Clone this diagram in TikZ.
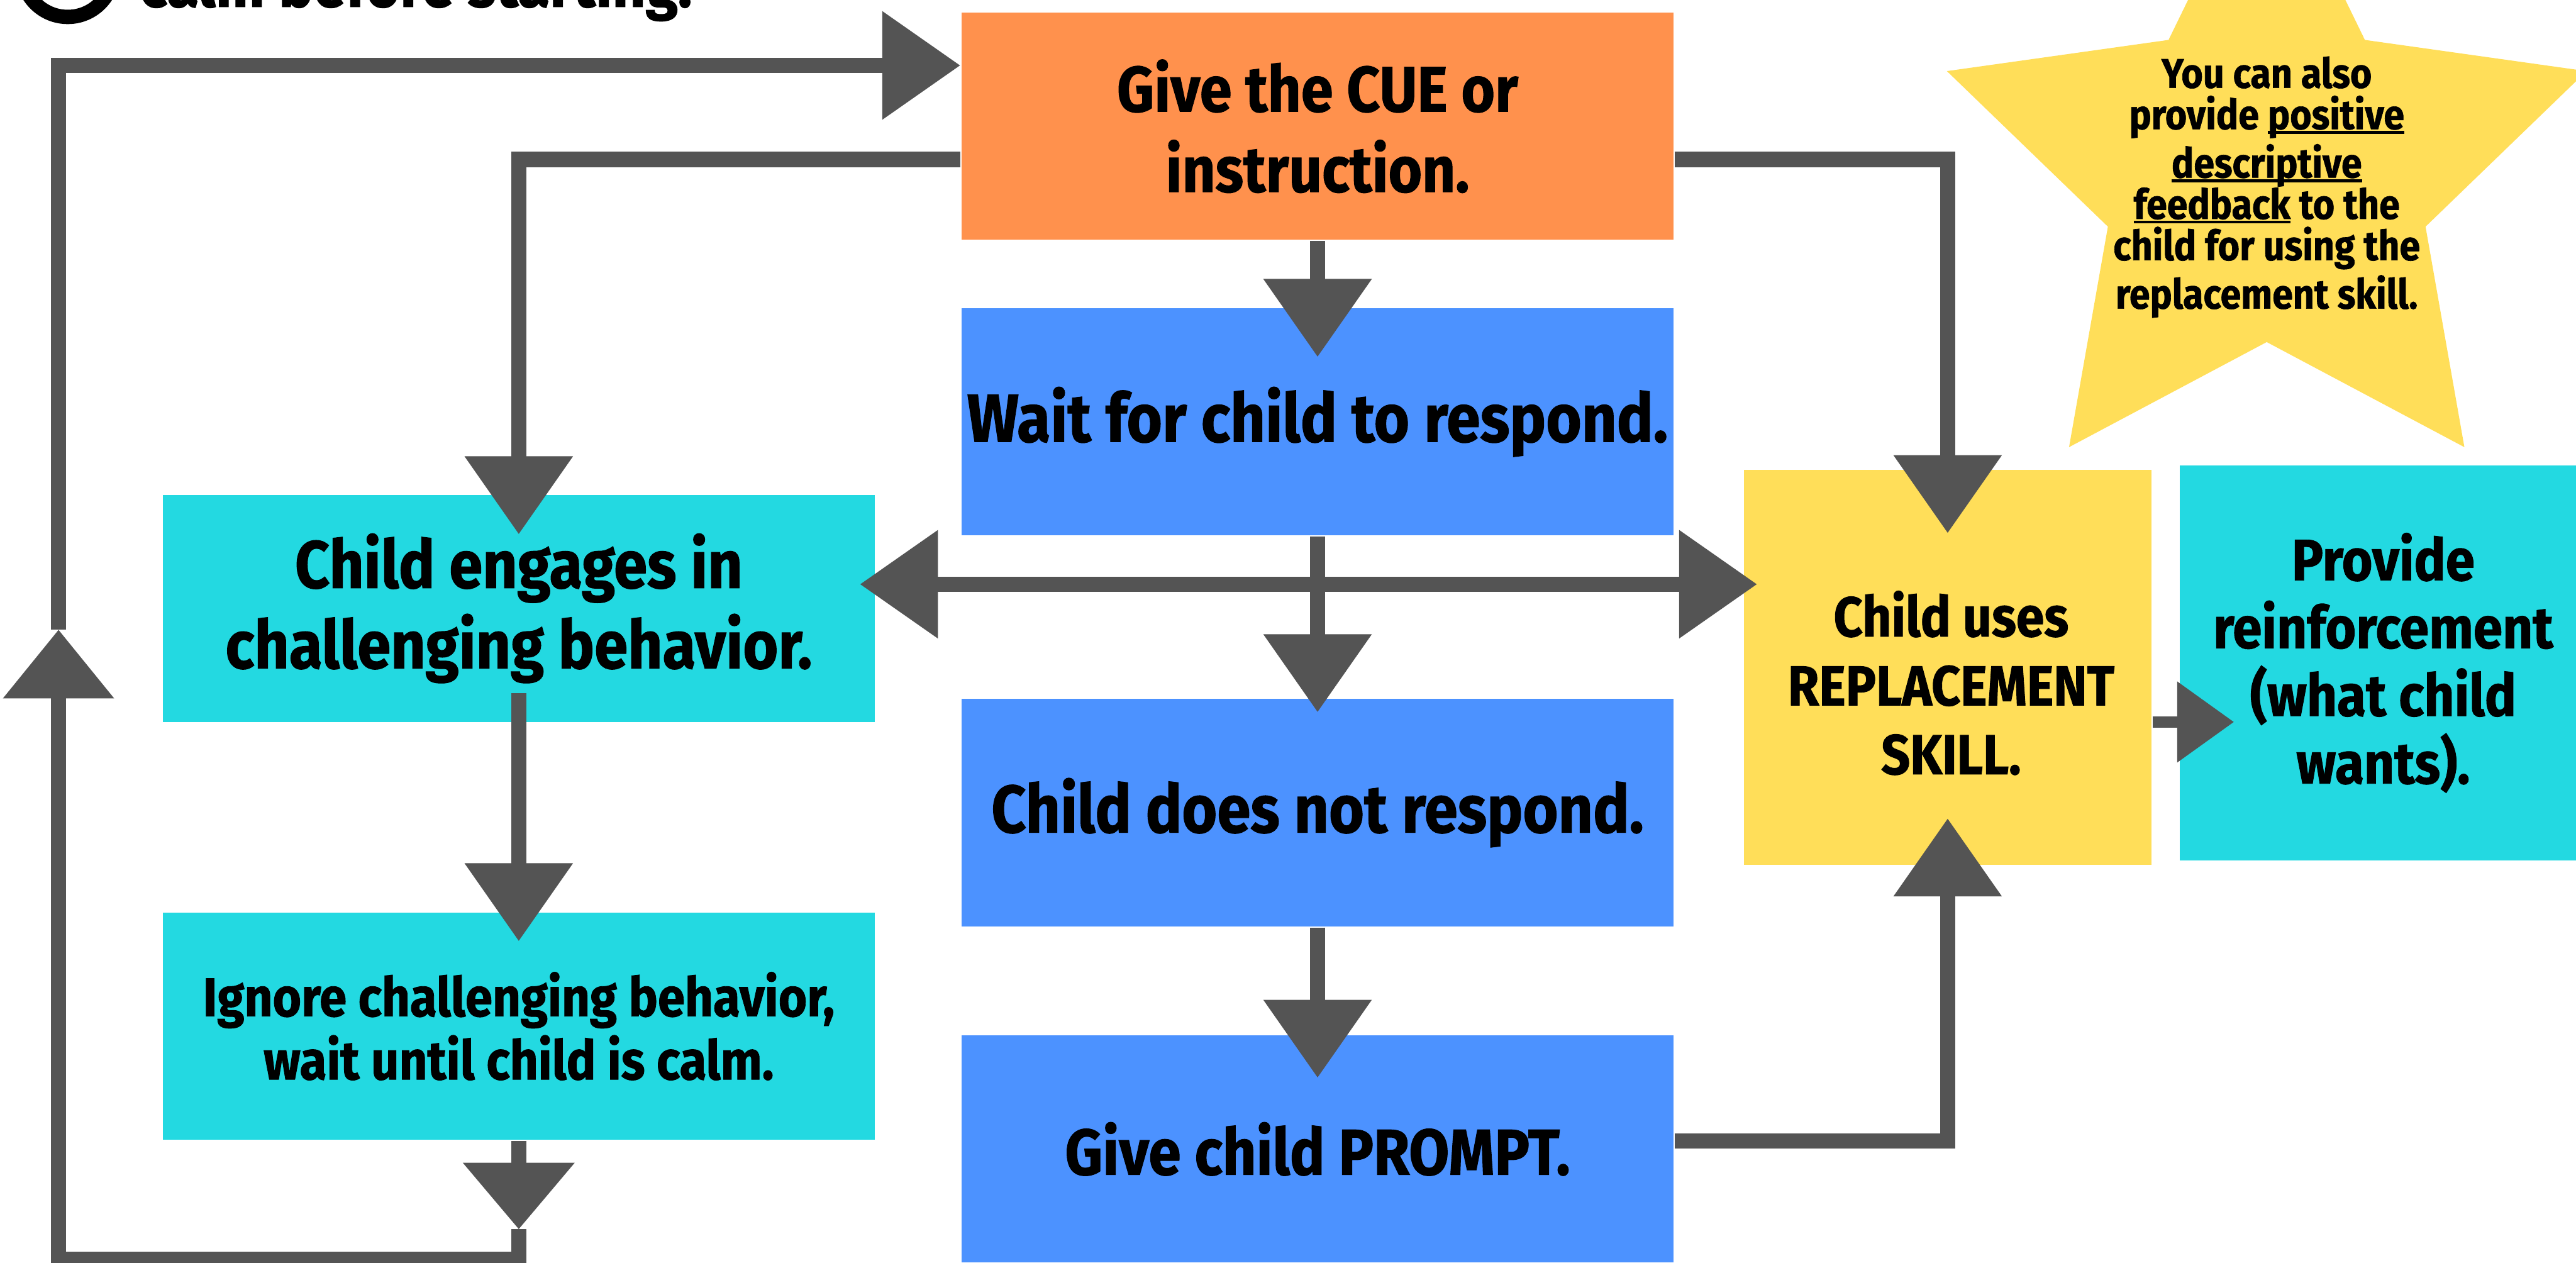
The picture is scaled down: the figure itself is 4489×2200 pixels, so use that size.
\documentclass[tikz,border=0pt]{standalone}
\usepackage{fontspec}
\setmainfont{Fira Sans}[FakeStretch=0.9, FakeBold=1]
\usetikzlibrary{arrows.meta,calc}
\definecolor{cueorange}{HTML}{FF914D}
\definecolor{stepblue}{HTML}{4C92FF}
\definecolor{behcyan}{HTML}{23D9E1}
\definecolor{skillyellow}{HTML}{FFDE59}
\definecolor{linegray}{HTML}{545454}
\newcommand\fsz[2]{\fontsize{#1}{#2}\selectfont}
\newcommand\uln[1]{\setbox0\hbox{#1}\rlap{\rule[-0.8pt]{\wd0}{0.45pt}}\box0\relax}
\begin{document}
\begin{tikzpicture}[x=0.1pt,y=-0.1pt,
  box/.style={rectangle, inner sep=0pt, minimum width=124.1pt, minimum height=39.6pt, align=center, text=black},
  lbl/.style={inner sep=0pt, align=center, text=black},
  conn/.style={draw=linegray, line width=2.7pt, line join=miter, line cap=butt},
  bigtip/.style={-{Triangle[length=13.6pt,width=18.2pt]}}]
\clip (0,0) rectangle (4489,2200);
\fill[white] (0,0) rectangle (4489,2200);

% top-left cut-off remark
\draw[black, line width=2.5pt] (118,-50) circle[radius=79.5];
\node[anchor=base west, inner sep=0pt, font=\bfseries\fsz{11.3}{13}] (calmtxt) at (241,12) {calm before starting.};

% star callout
\begin{scope}[shift={(3950,305)}]
\fill[skillyellow] (-90:586) -- (-54:291) -- (-18:586) -- (18:291) -- (54:586) -- (90:291) -- (126:586) -- (162:291) -- (198:586) -- (234:291) -- cycle;
\end{scope}
\node[lbl, font=\bfseries\fsz{7.2}{7.2}] (startxt) at (3950,326) {You can also\\provide \uln{positive}\\\uln{descriptive}\\\uln{feedback} to the\\child for using the\\replacement skill.};

% boxes
\node[box, fill=cueorange, font=\bfseries\fsz{11.2}{14}] (cue) at (2296,220) {Give the CUE or\\instruction.};
\node[box, fill=stepblue, font=\bfseries\fsz{11.8}{14}] (wait) at (2296,735) {Wait for child to respond.};
\node[box, fill=stepblue, font=\bfseries\fsz{11.7}{14}] (noresp) at (2296,1416) {Child does not respond.};
\node[box, fill=stepblue, font=\bfseries\fsz{11.3}{14}] (prompt) at (2296,2002) {Give child PROMPT.};
\node[box, fill=behcyan, font=\bfseries\fsz{11.7}{14}] (engage) at (904,1060) {Child engages in\\challenging behavior.};
\node[box, fill=behcyan, font=\bfseries\fsz{9.5}{11}] (ignore) at (904,1788) {Ignore challenging behavior,\\wait until child is calm.};
\node[box, fill=skillyellow, minimum width=71pt, minimum height=68.8pt] (replace) at (3394,1163) {};
\node[lbl, font=\bfseries\fsz{9.8}{12}] (replacetxt) at (3400,1190) {Child uses\\REPLACEMENT\\SKILL.};
\node[box, fill=behcyan, minimum width=71pt, minimum height=68.9pt, font=\bfseries\fsz{10.2}{11.8}] (provide) at (4153,1155) {Provide\\reinforcement\\(what child\\wants).};

% connectors
\coordinate (hub) at (2296,1018);
\draw[conn, bigtip] (cue.south) -- ($(wait.north)+(0,87)$);
\draw[conn, bigtip] (wait.south) -- ($(noresp.north)+(0,25)$);
\draw[conn, bigtip] (hub) -- ($(engage.east |- hub)+(-28,0)$);
\draw[conn, bigtip] (hub) -- ($(replace.west |- hub)+(25,0)$);
\draw[conn, bigtip] (noresp.south) -- ($(prompt.north)+(0,76)$);
\draw[conn, bigtip] ([yshift=1.4pt]prompt.east) -| ($(replace.south)+(0,-83)$);
\draw[conn, bigtip] ([yshift=-5.8pt]cue.east) -| ($(replace.north)+(0,112)$);
\draw[conn, bigtip] ([yshift=-5.8pt]cue.west) -| ($(engage.north)+(0,71)$);
\draw[conn, bigtip] ($(engage.south)+(0,-52)$) -- ($(ignore.north)+(0,52)$);

% return loop
\coordinate (loopdown) at ($(ignore.south)+(0,154)$);
\coordinate (loopup) at (102,1097);
\draw[conn, -{Triangle[length=11.6pt,width=18.8pt]}] (ignore.south) -- (loopdown);
\draw[conn, -{Triangle[length=12pt,width=18.7pt]}] (loopdown) |- (102,2194) -- (loopup);
\draw[conn, bigtip] (loopup) |- ([yshift=10.6pt]cue.west);

% reinforcement
\coordinate (rp) at ([yshift=-9.5pt]replace.east);
\draw[conn, line width=2pt, -{Triangle[length=9.9pt,width=13.6pt]}] (rp) -- ($(rp -| provide.west)+(97,0)$);
\end{tikzpicture}
\end{document}
